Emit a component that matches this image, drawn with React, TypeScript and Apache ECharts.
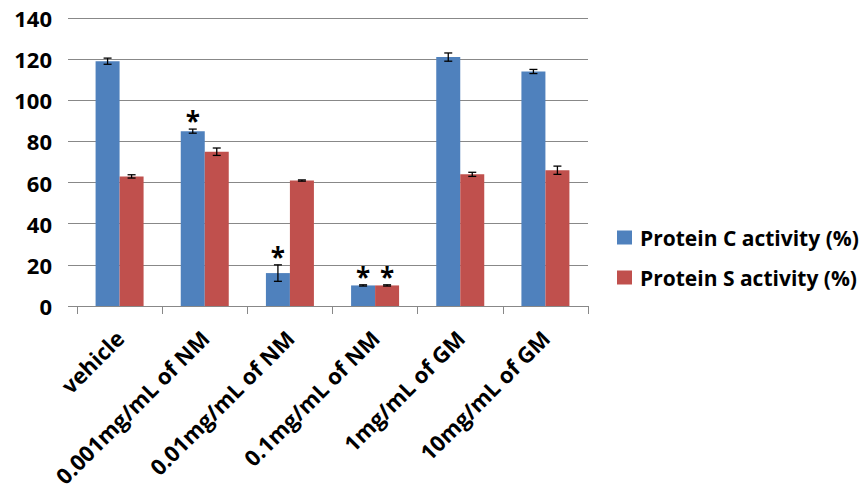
import React, { useEffect, useRef } from "react";
import * as echarts from "echarts";

const categories = [
  "vehicle",
  "0.001mg/mL of NM",
  "0.01mg/mL of NM",
  "0.1mg/mL of NM",
  "1mg/mL of GM",
  "10mg/mL of GM",
];
const proteinC = [119, 85, 16, 10, 121, 114];
const proteinS = [63, 75, 61, 10, 64, 66];
const errC = [1.5, 1, 4, 0.3, 2, 1];
const errS = [0.8, 1.8, 0.3, 0.3, 1, 2];
const sigC = [false, true, true, true, false, false];
const sigS = [false, false, false, true, false, false];
const yTicks = { min: 0, max: 140, interval: 20 };

const FONT = "'Open Sans', Lato, sans-serif";
const BLUE = "#4F81BD";
const RED = "#C0504D";
const BAR_W = 24;

export default function App() {
  const ref = useRef<HTMLDivElement>(null);
  useEffect(() => {
    if (!ref.current) return;
    const chart = echarts.init(ref.current, undefined, { renderer: "svg" });
    const errData: any[] = [];
    categories.forEach((_, i) => {
      errData.push([i, proteinC[i], errC[i], sigC[i] ? 1 : 0, -1]);
      errData.push([i, proteinS[i], errS[i], sigS[i] ? 1 : 0, 1]);
    });
    chart.setOption({
      animation: false,
      backgroundColor: "#fff",
      grid: { left: 77, right: 280, top: 18, bottom: 189, containLabel: false },
      legend: {
        orient: "vertical",
        left: 612,
        top: 220,
        itemWidth: 15,
        itemHeight: 14,
        itemGap: 15,
        icon: "rect",
        data: ["Protein C activity (%)", "Protein S activity (%)"],
        textStyle: {
          fontFamily: FONT,
          fontWeight: "bold",
          fontSize: 21,
          lineHeight: 25,
          padding: [0, 0, 0, 3],
          color: "#000",
        },
      },
      xAxis: {
        type: "category",
        data: categories,
        axisLine: { lineStyle: { color: "#888", width: 1 } },
        axisTick: { show: true, length: 8, lineStyle: { color: "#888" } },
        axisLabel: {
          rotate: 45,
          interval: 0,
          margin: 28,
          fontFamily: FONT,
          fontWeight: "bold",
          fontSize: 22,
          color: "#000",
        },
      },
      yAxis: {
        type: "value",
        min: yTicks.min,
        max: yTicks.max,
        interval: yTicks.interval,
        axisLine: { show: false },
        axisTick: { show: true, length: 9, lineStyle: { color: "#888" } },
        splitLine: { lineStyle: { color: "#888", width: 1 } },
        axisLabel: {
          margin: 25,
          fontFamily: FONT,
          fontWeight: "bold",
          fontSize: 22,
          color: "#000",
        },
      },
      series: [
        {
          name: "Protein C activity (%)",
          type: "bar",
          data: proteinC,
          barWidth: BAR_W,
          barGap: "0%",
          itemStyle: { color: BLUE },
        },
        {
          name: "Protein S activity (%)",
          type: "bar",
          data: proteinS,
          barWidth: BAR_W,
          barGap: "0%",
          itemStyle: { color: RED },
        },
        {
          type: "custom",
          data: errData,
          z: 10,
          renderItem: (params: any, api: any) => {
            const i = api.value(0);
            const v = api.value(1);
            const e = api.value(2);
            const sig = api.value(3);
            const side = api.value(4);
            const top = api.coord([i, v + e]);
            const bot = api.coord([i, v - e]);
            const x = top[0] + side * (BAR_W / 2);
            const cap = 4;
            const st = { stroke: "#000", lineWidth: 1.3 };
            const children: any[] = [
              { type: "line", shape: { x1: x, y1: top[1], x2: x, y2: bot[1] }, style: st },
              { type: "line", shape: { x1: x - cap, y1: top[1], x2: x + cap, y2: top[1] }, style: st },
              { type: "line", shape: { x1: x - cap, y1: bot[1], x2: x + cap, y2: bot[1] }, style: st },
            ];
            if (sig) {
              children.push({
                type: "text",
                style: {
                  text: "*",
                  x: x,
                  y: top[1] + 5,
                  align: "center",
                  verticalAlign: "bottom",
                  fontFamily: FONT,
                  fontWeight: "bold",
                  fontSize: 26,
                  fill: "#000",
                },
              });
            }
            return { type: "group", children };
          },
        },
      ],
    });
    return () => chart.dispose();
  }, []);
  return <div ref={ref} style={{ width: 868, height: 495, margin: -8 }} />;
}
